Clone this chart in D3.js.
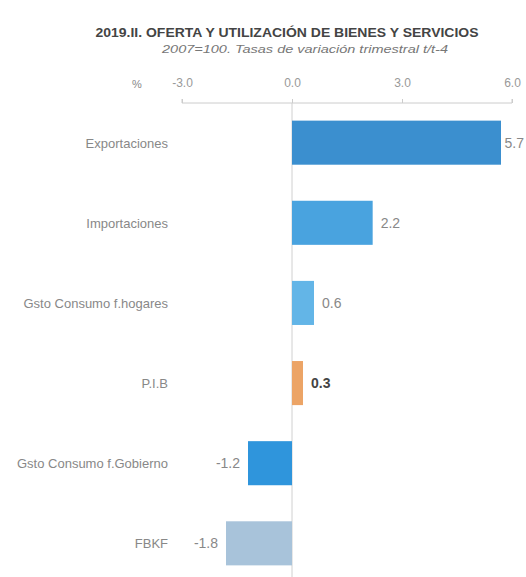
<!DOCTYPE html>
<html>
<head>
<meta charset="utf-8">
<script src="https://cdn.jsdelivr.net/npm/d3@7"></script>
<style>
  html, body { margin: 0; padding: 0; background: #fff; }
  svg { display: block; }
  text { font-family: "Liberation Sans Narrow", "Arial Narrow", "Liberation Sans", sans-serif; }
</style>
</head>
<body>
<svg id="chart" width="526" height="577"></svg>
<script>
const categories = ["Exportaciones", "Importaciones", "Gsto Consumo f.hogares", "P.I.B", "Gsto Consumo f.Gobierno", "FBKF"];
const values = [5.7, 2.2, 0.6, 0.3, -1.2, -1.8];
const valueLabels = ["5.7", "2.2", "0.6", "0.3", "-1.2", "-1.8"];
const barColors = ["#3b8fcf", "#49a3df", "#63b5e7", "#eca466", "#2f95dc", "#a8c3da"];
const tickValues = [-3, 0, 3, 6];
const tickLabels = ["-3.0", "0.0", "3.0", "6.0"];
const titleText = "2019.II. OFERTA Y UTILIZACIÓN DE BIENES Y SERVICIOS";
const subtitleText = "2007=100. Tasas de variación trimestral t/t-4";

const W = 526;
const svg = d3.select("#chart");

const x = d3.scaleLinear().domain([-3, 6]).range([182, 512]);
const y = d3.scaleBand().domain(categories).range([103, 583]).paddingInner(0.45).paddingOuter(0.22);

// Title
svg.append("text").attr("x", 287).attr("y", 37).attr("text-anchor", "middle")
  .attr("font-size", 13).attr("font-weight", "bold").attr("fill", "#444")
  .attr("textLength", 383).attr("lengthAdjust", "spacingAndGlyphs")
  .text(titleText);
svg.append("text").attr("x", 305).attr("y", 53).attr("text-anchor", "middle")
  .attr("font-size", 10).attr("font-style", "italic").attr("fill", "#777")
  .attr("textLength", 286).attr("lengthAdjust", "spacingAndGlyphs")
  .text(subtitleText);

// "%" label
svg.append("text").attr("x", 137).attr("y", 88).attr("text-anchor", "middle")
  .attr("font-size", 11).attr("fill", "#888").text("%");

// top axis
const axis = d3.axisBottom(x).tickValues(tickValues).tickFormat((d, i) => tickLabels[i]).tickSize(-4).tickPadding(0);
const ag = svg.append("g").attr("transform", "translate(0,103)").call(axis);
ag.select(".domain").attr("stroke", "#ccc").attr("d", `M${x(-3)},-4V0H${x(6)}V-4`);
ag.selectAll(".tick line").attr("stroke", "#ccc");
ag.selectAll(".tick text").attr("y", -16).attr("dy", 0).attr("fill", "#999").attr("font-size", 12);

// zero line
svg.append("line").attr("x1", x(0)).attr("x2", x(0)).attr("y1", 103).attr("y2", 577)
  .attr("stroke", "#d0d0d0").attr("stroke-width", 1);

// bars
svg.append("g").selectAll("rect").data(values).join("rect")
  .attr("x", d => x(Math.min(0, d)))
  .attr("width", d => Math.abs(x(d) - x(0)))
  .attr("y", (d, i) => y(categories[i]))
  .attr("height", y.bandwidth())
  .attr("fill", (d, i) => barColors[i]);

// value labels
svg.append("g").selectAll("text").data(values).join("text")
  .attr("x", d => d >= 0 ? x(d) + 8 : x(d) - 8)
  .attr("y", (d, i) => y(categories[i]) + y.bandwidth() / 2 + 5)
  .attr("text-anchor", d => d >= 0 ? "start" : "end")
  .attr("font-size", 14)
  .attr("font-weight", (d, i) => categories[i] === "P.I.B" ? "bold" : "normal")
  .attr("fill", (d, i) => categories[i] === "P.I.B" ? "#444" : "#888")
  .text((d, i) => valueLabels[i])
  .each(function(d) {
    if (d >= 0) {
      const w = this.getComputedTextLength();
      const sx = +this.getAttribute("x");
      if (sx + w > W - 2) this.setAttribute("x", Math.max(x(d) + 2, W - 2 - w));
    }
  });

// category labels
svg.append("g").selectAll("text").data(categories).join("text")
  .attr("x", 168)
  .attr("y", d => y(d) + y.bandwidth() / 2 + 5)
  .attr("text-anchor", "end")
  .attr("font-size", 13)
  .attr("fill", "#888")
  .text(d => d);
</script>
</body>
</html>
